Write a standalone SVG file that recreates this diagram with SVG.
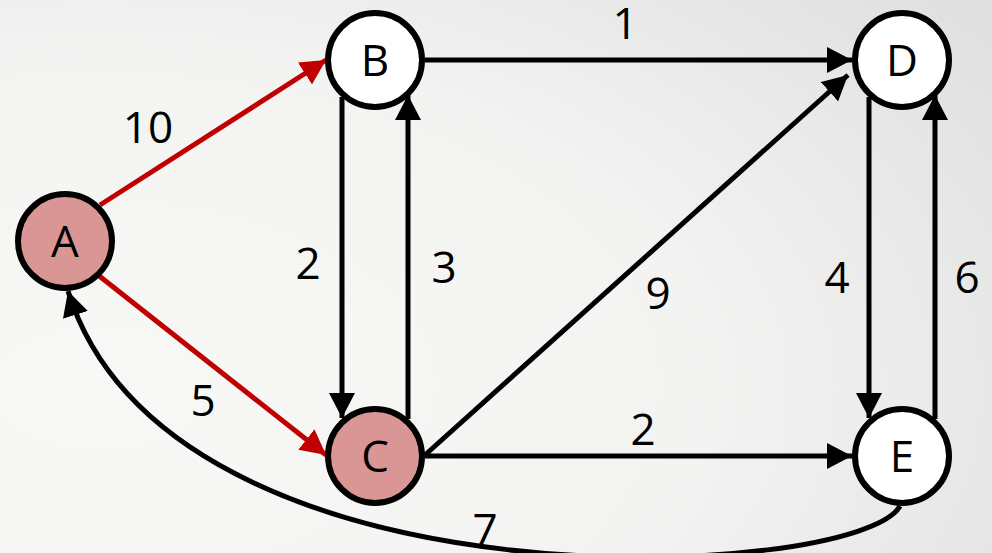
<svg xmlns="http://www.w3.org/2000/svg" width="992" height="553" viewBox="0 0 992 553">
<defs>
<radialGradient id="bg" cx="0.1" cy="0.7" r="1.1">
<stop offset="0" stop-color="#f8f8f6"/>
<stop offset="0.55" stop-color="#f3f3f2"/>
<stop offset="1" stop-color="#e0e0e0"/>
</radialGradient>
<marker id="ab" markerUnits="userSpaceOnUse" markerWidth="26" markerHeight="26" viewBox="0 0 26 26" refX="25" refY="13" orient="auto">
<path d="M0,0 L25,13 L0,26 Z" fill="#000"/>
</marker>
<marker id="ar" markerUnits="userSpaceOnUse" markerWidth="26" markerHeight="26" viewBox="0 0 26 26" refX="25" refY="13" orient="auto">
<path d="M0,0 L25,13 L0,26 Z" fill="#c00000"/>
</marker>
<style>
.n{stroke:#000;stroke-width:6}
.w{fill:#fff}
.p{fill:#d99694}
.t{font-family:"Open Sans","Noto Sans","DejaVu Sans",sans-serif;font-size:44px;fill:#000;text-anchor:middle}
.e{stroke:#000;stroke-width:5;fill:none;marker-end:url(#ab)}
.r{stroke:#c00000;stroke-width:5;fill:none;marker-end:url(#ar)}
</style>
</defs>
<rect width="992" height="553" fill="url(#bg)"/>
<g id="connectors">
<line class="r" x1="100" y1="205" x2="326" y2="60"/>
<line class="r" x1="98" y1="275" x2="326" y2="455"/>
<line class="e" x1="425" y1="60" x2="852" y2="60"/>
<line class="e" x1="342" y1="97" x2="342" y2="418"/>
<line class="e" x1="408" y1="419" x2="408" y2="95"/>
<line class="e" x1="425" y1="455" x2="848" y2="75"/>
<line class="e" x1="425" y1="456" x2="852" y2="456"/>
<line class="e" x1="869" y1="97" x2="869" y2="418"/>
<line class="e" x1="935" y1="419" x2="935" y2="95"/>
<path class="e" d="M900,506 C860,580 170,620 68,291"/>
<text class="t" x="148" y="143">10</text>
<text class="t" x="203" y="416">5</text>
<text class="t" x="625" y="39">1</text>
<text class="t" x="308" y="279">2</text>
<text class="t" x="444" y="283">3</text>
<text class="t" x="658" y="309">9</text>
<text class="t" x="643" y="445">2</text>
<text class="t" x="837" y="293">4</text>
<text class="t" x="967" y="293">6</text>
<text class="t" x="485" y="545">7</text>
</g>
<g id="A"><circle class="n p" cx="65" cy="241" r="47"/><text class="t" x="65" y="257">A</text></g>
<g id="B"><circle class="n w" cx="375" cy="60" r="47"/><text class="t" x="375" y="76">B</text></g>
<g id="C"><circle class="n p" cx="375" cy="456" r="47"/><text class="t" x="375" y="472">C</text></g>
<g id="D"><circle class="n w" cx="902" cy="60" r="47"/><text class="t" x="902" y="76">D</text></g>
<g id="E"><circle class="n w" cx="902" cy="456" r="47"/><text class="t" x="902" y="472">E</text></g>
</svg>
